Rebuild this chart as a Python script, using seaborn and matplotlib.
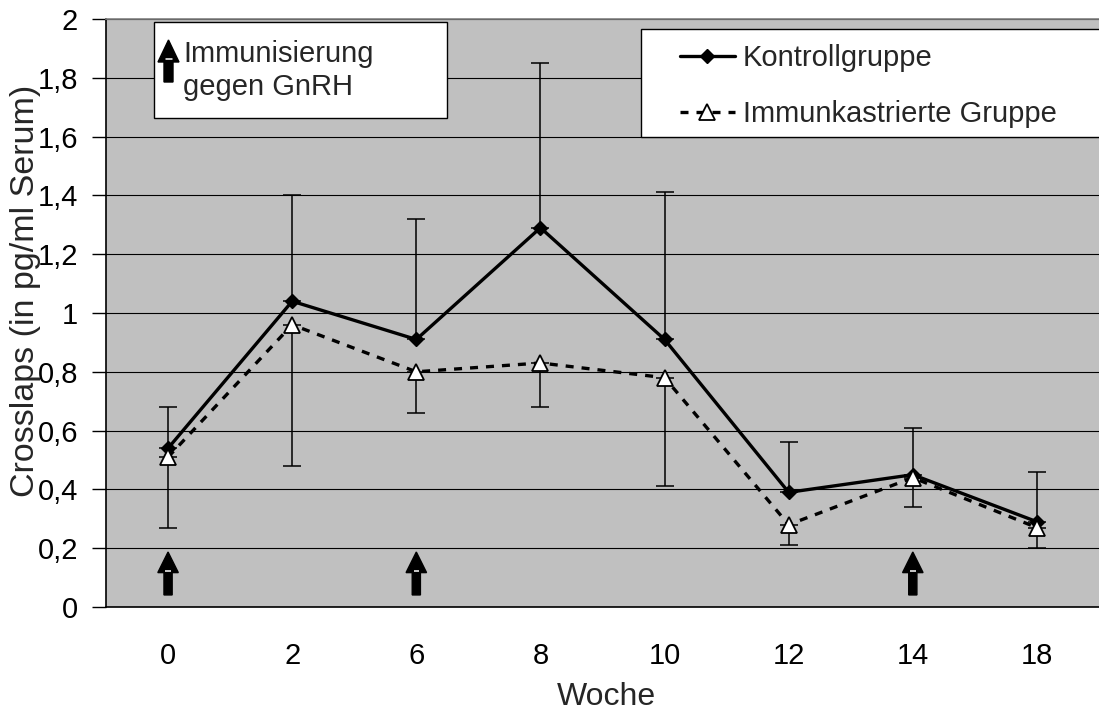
import numpy as np
import pandas as pd
import matplotlib
matplotlib.use("Agg")
import matplotlib.pyplot as plt
import matplotlib.transforms as mtransforms
from matplotlib.patches import FancyArrow, Rectangle
from matplotlib.lines import Line2D
import seaborn as sns

# --- data -------------------------------------------------------------
weeks = ["0", "2", "6", "8", "10", "12", "14", "18"]
kontroll = [0.54, 1.04, 0.91, 1.29, 0.91, 0.39, 0.45, 0.29]
kontroll_upper = [0.68, 1.40, 1.32, 1.85, 1.41, 0.56, 0.61, 0.46]
immun = [0.51, 0.96, 0.80, 0.83, 0.78, 0.28, 0.44, 0.27]
immun_lower = [0.27, 0.48, 0.66, 0.68, 0.41, 0.21, 0.34, 0.20]
immunisierung_weeks = ["0", "6", "14"]
y_ticks = [0.0, 0.2, 0.4, 0.6, 0.8, 1.0, 1.2, 1.4, 1.6, 1.8, 2.0]
y_ticklabels = [f"{v:g}".replace(".", ",") for v in y_ticks]

label_k = "Kontrollgruppe"
label_i = "Immunkastrierte Gruppe"

pos = np.arange(len(weeks))
df = pd.DataFrame({
    "pos": np.concatenate([pos, pos]),
    "Wert": kontroll + immun,
    "Gruppe": [label_k] * len(weeks) + [label_i] * len(weeks),
})

# --- style ------------------------------------------------------------
sns.set_style("white")
plt.rcParams["font.family"] = ["Liberation Sans", "DejaVu Sans"]
FS = 21
LW = 2.4
DASH = (0, (2.4, 2.4))

W, H = 1099, 715
fig = plt.figure(figsize=(W / 100, H / 100), dpi=100)
ax = fig.add_axes([106 / W, (H - 607) / H, (W - 106) / W, (607 - 19) / H])
ax.set_facecolor("#C0C0C0")

# pixel coordinates measured from the top-left corner of the figure
px = mtransforms.Affine2D().scale(1 / W, -1 / H).translate(0, 1) + fig.transFigure

# --- lines ------------------------------------------------------------
dk = df[df["Gruppe"] == label_k]
di = df[df["Gruppe"] == label_i]

ax.errorbar(pos, kontroll,
            yerr=[np.zeros(len(pos)), np.array(kontroll_upper) - np.array(kontroll)],
            fmt="none", ecolor="black", elinewidth=1.1, capsize=6.5, capthick=1.1, zorder=3)
ax.errorbar(pos, immun,
            yerr=[np.array(immun) - np.array(immun_lower), np.zeros(len(pos))],
            fmt="none", ecolor="black", elinewidth=1.1, capsize=6.5, capthick=1.1, zorder=3)

sns.lineplot(data=dk, x="pos", y="Wert", ax=ax, color="black", linewidth=LW,
             marker="D", markersize=7, markerfacecolor="black",
             markeredgecolor="black", markeredgewidth=1, zorder=4, legend=False)
sns.lineplot(data=di, x="pos", y="Wert", ax=ax, color="black", linewidth=LW,
             linestyle=DASH, marker="^", markersize=11.5,
             markerfacecolor="white", markeredgecolor="black",
             markeredgewidth=1.3, zorder=5, legend=False)

# --- immunisation arrows ------------------------------------------------
def up_arrow_data(x):
    ax.add_patch(FancyArrow(x, 0.041, 0, 0.146, width=0.066, head_width=0.165,
                            head_length=0.07, length_includes_head=True,
                            color="black", zorder=6))
    ax.plot([x - 0.022, x + 0.022], [0.124, 0.124], color="white", lw=1.1,
            solid_capstyle="butt", zorder=7)

for wk in immunisierung_weeks:
    up_arrow_data(weeks.index(wk))

# --- axes -------------------------------------------------------------
ax.set_xlim(-0.5, len(weeks) - 0.5 - 7 / 125)
ax.set_ylim(0, 2)
ax.set_yticks(y_ticks)
ax.set_yticklabels(y_ticklabels)
ax.set_xticks(pos)
ax.set_xticklabels(weeks)
ax.set_xticks(np.arange(-0.5, len(weeks), 1.0), minor=True)
ax.tick_params(axis="x", which="major", length=0, pad=25, labelsize=FS, colors="black")
ax.tick_params(axis="x", which="minor", length=10, width=1, direction="out", color="black")
ax.tick_params(axis="y", length=10, width=1, direction="out", pad=10, labelsize=FS,
               colors="black", left=True)
ax.grid(axis="y", color="black", linewidth=0.8)
ax.set_axisbelow(True)

for side in ["left", "bottom"]:
    ax.spines[side].set_color("black")
    ax.spines[side].set_linewidth(1.2)
ax.spines["top"].set_color("#808080")
ax.spines["top"].set_linewidth(1.2)
ax.spines["right"].set_visible(False)

ax.set_xlabel("Woche", fontsize=23)
ax.xaxis.set_label_coords(0.5036, -(682 - 607) / 588)
ax.set_ylabel("Crosslaps (in pg/ml Serum)", fontsize=24.5)
ax.yaxis.set_label_coords((41 - 106) / (W - 106), (607 - 291) / 588)

# --- info box: immunisation ----------------------------------------------
fig.patches.append(Rectangle((154, 22), 293, 96, transform=px, facecolor="white",
                             edgecolor="black", linewidth=1.0, zorder=10))
fig.patches.append(FancyArrow(168.5, 82, 0, -42, width=9, head_width=21,
                              head_length=22, length_includes_head=True,
                              transform=px, color="black", zorder=11))
fig.lines.append(Line2D([165.5, 171.5], [59, 59], transform=px, color="white",
                        lw=1.1, zorder=12))
fig.text(183, 61.7, "Immunisierung", transform=px, fontsize=FS, va="baseline",
         ha="left", zorder=12)
fig.text(183, 95, "gegen GnRH", transform=px, fontsize=FS, va="baseline",
         ha="left", zorder=12)

# --- legend -------------------------------------------------------------
fig.patches.append(Rectangle((641, 29), 480, 108, transform=px, facecolor="white",
                             edgecolor="black", linewidth=1.0, zorder=10))
handles = [
    Line2D([], [], color="black", linewidth=LW, marker="D", markersize=7),
    Line2D([], [], color="black", linewidth=LW, linestyle=DASH,
           marker="^", markersize=11.5, markerfacecolor="white",
           markeredgecolor="black", markeredgewidth=1.3),
]
leg = fig.legend(handles, [label_k, label_i], loc="center left",
                 bbox_to_anchor=(679.5 / W, 1 - 86 / H), frameon=False,
                 fontsize=FS, handlelength=1.9, handletextpad=0.28,
                 labelspacing=0.95, borderpad=0, borderaxespad=0)
leg.set_zorder(12)

fig.savefig("out.png", dpi=100, facecolor="white")
